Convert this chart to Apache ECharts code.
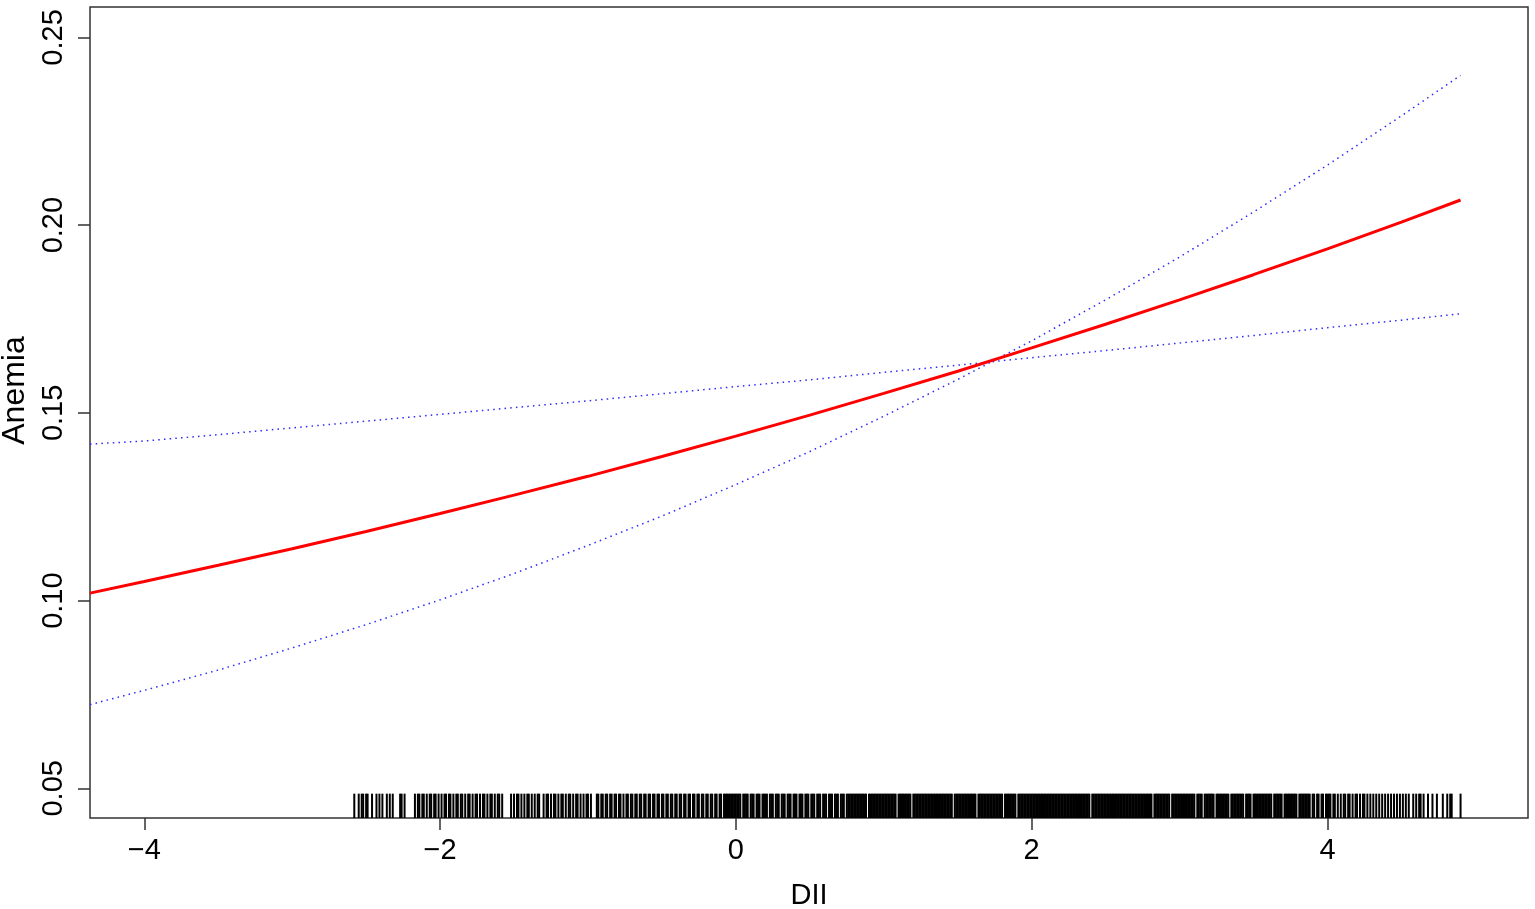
<!DOCTYPE html>
<html>
<head>
<meta charset="utf-8">
<script src="https://cdn.jsdelivr.net/npm/echarts@6/dist/echarts.min.js"></script>
<style>
  html, body { margin: 0; padding: 0; background: #fff; }
  #chart { width: 1535px; height: 909px; }
</style>
</head>
<body>
<div id="chart"></div>
<script>
// axis limits and ticks (R default plot: 4% padding around xlim/ylim)
const X_MIN = -4.367
const X_MAX = 5.356
const Y_MIN = 0.0421
const Y_MAX = 0.2581
const xTicks = [-4, -2, 0, 2, 4]
const yTicks = [0.05, 0.1, 0.15, 0.2, 0.25]

// fitted curve (red) and its confidence bounds (blue dotted)
const fitX = [-4.367, -4, -3.5, -3, -2.5, -2, -1.5, -1, -0.5, 0, 0.5, 1, 1.5, 2, 2.5, 3, 3.5, 4, 4.5, 4.9]
const fitY = [0.1020, 0.1051, 0.1094, 0.1138, 0.1184, 0.1232, 0.1281, 0.1331, 0.1384, 0.1438,
  0.1494, 0.1552, 0.1611, 0.1673, 0.1736, 0.1801, 0.1868, 0.1937, 0.2008, 0.2067]
const flatBoundY = [0.1417, 0.1425, 0.1442, 0.1460, 0.1478, 0.1496, 0.1514, 0.1532, 0.1551, 0.1570,
  0.1588, 0.1608, 0.1627, 0.1647, 0.1666, 0.1686, 0.1706, 0.1727, 0.1747, 0.1764]
const steepBoundY = [0.0723, 0.0761, 0.0815, 0.0874, 0.0936, 0.1002, 0.1072, 0.1147, 0.1225, 0.1309,
  0.1397, 0.1491, 0.1589, 0.1692, 0.1801, 0.1915, 0.2035, 0.2160, 0.2291, 0.2399]

// rug of observed DII values
const rugValues = [
  -2.58, -2.55, -2.53, -2.52, -2.50, -2.49, -2.46, -2.43, -2.41, -2.39, -2.36, -2.34, -2.32, -2.27, -2.26, -2.24,
  -2.17, -2.15, -2.14, -2.12, -2.11, -2.09, -2.07, -2.06, -2.04, -2.03, -2.01,
  -1.99, -1.97, -1.96, -1.94, -1.93, -1.91, -1.89, -1.88, -1.86, -1.85, -1.83, -1.81, -1.80, -1.78, -1.76,
  -1.75, -1.73, -1.71, -1.70, -1.68, -1.66, -1.65, -1.63, -1.61, -1.60, -1.58,
  -1.52, -1.50, -1.48, -1.47, -1.45, -1.43, -1.41, -1.40, -1.38, -1.36, -1.34, -1.33,
  -1.30, -1.28, -1.27, -1.25, -1.23, -1.22, -1.20, -1.18, -1.17, -1.15, -1.13, -1.12, -1.10, -1.08, -1.07,
  -1.05, -1.03, -1.01, -1.00, -0.98,
  -0.94, -0.93, -0.91, -0.90, -0.88, -0.87, -0.85, -0.84, -0.82, -0.81, -0.79, -0.78, -0.76, -0.74, -0.73,
  -0.71, -0.70, -0.68, -0.67, -0.65, -0.64, -0.62, -0.61, -0.59, -0.58, -0.56, -0.55, -0.53, -0.52, -0.50,
  -0.49, -0.47, -0.46, -0.44, -0.43, -0.41, -0.40, -0.38, -0.37, -0.35, -0.34, -0.32, -0.31, -0.29, -0.28,
  -0.26, -0.25, -0.23, -0.22, -0.20, -0.19, -0.17, -0.16, -0.14, -0.13, -0.11, -0.10, -0.08, -0.07, -0.06,
  -0.05, -0.04, -0.03, -0.02, -0.01, 0.00, 0.01, 0.02, 0.03,
  0.05, 0.06, 0.07, 0.08, 0.10, 0.11, 0.12, 0.14, 0.15, 0.16, 0.18, 0.19, 0.20, 0.21, 0.23, 0.24, 0.25,
  0.27, 0.28, 0.29, 0.31, 0.32, 0.33, 0.35, 0.36, 0.37, 0.39, 0.40, 0.41, 0.43, 0.44, 0.45, 0.47, 0.48,
  0.49, 0.51, 0.52, 0.53, 0.55, 0.56, 0.57, 0.59, 0.60, 0.61, 0.63, 0.64, 0.65, 0.67, 0.68, 0.69, 0.71,
  0.72, 0.73, 0.75, 0.76,
  0.77, 0.78, 0.79, 0.80, 0.81, 0.82, 0.83, 0.84, 0.85, 0.86, 0.87, 0.88, 0.90, 0.91, 0.92, 0.93, 0.94,
  0.95, 0.96, 0.97, 0.98, 0.99, 1.00, 1.01, 1.02, 1.03, 1.04, 1.05, 1.06, 1.07, 1.08, 1.10, 1.11, 1.12,
  1.13, 1.14, 1.15, 1.16, 1.17, 1.18, 1.20, 1.21, 1.22, 1.23, 1.24, 1.25, 1.26, 1.27, 1.28, 1.29, 1.30,
  1.31, 1.32, 1.33, 1.34, 1.35, 1.36, 1.37, 1.38, 1.39, 1.40, 1.41, 1.42, 1.43, 1.44, 1.45, 1.46, 1.48,
  1.49, 1.50, 1.51, 1.52, 1.53, 1.54, 1.55, 1.56, 1.57, 1.58, 1.59, 1.60, 1.61, 1.62, 1.64, 1.65, 1.66,
  1.67, 1.68, 1.69, 1.70, 1.71, 1.72, 1.73, 1.74, 1.75, 1.76, 1.77, 1.78, 1.79, 1.80, 1.82, 1.83, 1.84,
  1.85, 1.86, 1.87, 1.88, 1.89, 1.91, 1.92, 1.93, 1.94, 1.95, 1.96, 1.97, 1.98, 1.99, 2.00, 2.01, 2.02,
  2.03, 2.04, 2.05, 2.06, 2.07, 2.08, 2.09, 2.10, 2.11, 2.12, 2.13, 2.14, 2.15, 2.16, 2.17, 2.18, 2.19,
  2.20, 2.21, 2.22, 2.23, 2.24, 2.25, 2.26, 2.27, 2.28, 2.29, 2.30, 2.31, 2.32, 2.33, 2.34, 2.35, 2.36,
  2.37, 2.38, 2.39, 2.41, 2.42, 2.43, 2.44, 2.45, 2.46, 2.47, 2.48, 2.49, 2.50, 2.51, 2.52, 2.53, 2.54,
  2.55, 2.56, 2.57, 2.58, 2.59, 2.60, 2.61, 2.62, 2.63, 2.64, 2.65, 2.66, 2.67, 2.68, 2.69, 2.70, 2.71,
  2.72, 2.73, 2.74, 2.75, 2.76, 2.77, 2.78, 2.79, 2.80, 2.81, 2.83, 2.84, 2.85, 2.86, 2.87, 2.88, 2.89,
  2.90, 2.91, 2.92, 2.93, 2.95, 2.96, 2.97, 2.98, 2.99, 3.00, 3.01, 3.02, 3.03, 3.04, 3.05, 3.06, 3.07,
  3.08, 3.09, 3.10, 3.12, 3.13, 3.14, 3.15, 3.17, 3.18, 3.19, 3.20, 3.21, 3.22, 3.23, 3.25, 3.26, 3.27,
  3.28, 3.29, 3.30, 3.31, 3.32, 3.33, 3.35, 3.36, 3.37, 3.38, 3.39, 3.40, 3.41, 3.42, 3.43, 3.45, 3.46,
  3.47, 3.48, 3.50, 3.51, 3.52, 3.53, 3.54, 3.55, 3.56, 3.57, 3.58, 3.59, 3.60, 3.61, 3.62, 3.64, 3.65,
  3.66, 3.67, 3.68, 3.69, 3.71, 3.72, 3.73, 3.74, 3.75, 3.76, 3.77, 3.78, 3.79, 3.81, 3.82, 3.83, 3.84,
  3.85, 3.86,
  3.87, 3.88, 3.90, 3.91, 3.93, 3.94, 3.96, 3.97, 3.99, 4.00, 4.01, 4.02, 4.04, 4.05, 4.07,
  4.09, 4.11, 4.12, 4.14, 4.15, 4.17, 4.19, 4.20, 4.22, 4.24, 4.25, 4.27, 4.29, 4.31, 4.33, 4.35, 4.37,
  4.39, 4.41, 4.43, 4.45, 4.47, 4.49, 4.51, 4.53, 4.55,
  4.58, 4.60, 4.62, 4.63, 4.65, 4.68, 4.71, 4.74, 4.78, 4.81, 4.83, 4.84, 4.90,
]

const FONT = '"Liberation Sans", Arial, Helvetica, sans-serif'
const AXIS_COLOR = '#333'

const pairs = (xs, ys) => xs.map((x, i) => [x, ys[i]])
const minusSign = (v) => (v < 0 ? '\u2212' + Math.abs(v) : String(v))

const chart = echarts.init(document.getElementById('chart'), null, { renderer: 'canvas' })

const boundLine = (data) => ({
  type: 'line',
  data,
  symbol: 'none',
  silent: true,
  z: 3,
  lineStyle: { color: '#2a2aff', width: 1.5, type: [1.5, 4.2] },
})

chart.setOption({
  animation: false,
  backgroundColor: '#fff',
  grid: {
    left: 90,
    right: 7,
    top: 7,
    bottom: 91,
    outerBoundsMode: 'none',
    containLabel: false,
    show: true,
    borderColor: AXIS_COLOR,
    borderWidth: 1.5,
  },
  xAxis: {
    type: 'value',
    min: X_MIN,
    max: X_MAX,
    name: 'DII',
    nameLocation: 'middle',
    nameGap: 63,
    nameTextStyle: { color: '#000', fontSize: 29, fontFamily: FONT },
    axisLine: { show: false, onZero: false },
    splitLine: { show: false },
    axisTick: {
      show: true,
      length: 12,
      customValues: xTicks,
      lineStyle: { color: AXIS_COLOR, width: 1.5 },
    },
    axisLabel: {
      customValues: xTicks,
      formatter: minusSign,
      margin: 18,
      color: '#000',
      fontSize: 29,
      fontFamily: FONT,
    },
  },
  yAxis: {
    type: 'value',
    min: Y_MIN,
    max: Y_MAX,
    name: 'Anemia',
    nameLocation: 'middle',
    nameGap: 58,
    nameRotate: 90,
    nameTextStyle: { color: '#000', fontSize: 32, fontFamily: FONT, padding: [0, 0, 0, 44] },
    axisLine: { show: false, onZero: false },
    splitLine: { show: false },
    axisTick: {
      show: true,
      length: 12,
      customValues: yTicks,
      lineStyle: { color: AXIS_COLOR, width: 1.5 },
    },
    axisLabel: {
      customValues: yTicks,
      formatter: (v) => v.toFixed(2),
      rotate: 90,
      margin: 22,
      color: '#000',
      fontSize: 29,
      fontFamily: FONT,
    },
  },
  series: [
    boundLine(pairs(fitX, steepBoundY)),
    boundLine(pairs(fitX, flatBoundY)),
    {
      type: 'line',
      data: pairs(fitX, fitY),
      symbol: 'none',
      silent: true,
      z: 4,
      lineStyle: { color: '#ff0000', width: 3 },
    },
    {
      // rug: each tick is 3% of the plot height, standing on the bottom edge
      type: 'custom',
      silent: true,
      z: 2,
      data: rugValues.map((v) => [v, Y_MIN]),
      renderItem: (params, api) => {
        const p = api.coord([api.value(0), api.value(1)])
        const h = params.coordSys.height * 0.03
        return {
          type: 'rect',
          shape: { x: p[0] - 1, y: p[1] - h, width: 2, height: h },
          style: { fill: '#000' },
        }
      },
    },
  ],
})

window.addEventListener('resize', () => chart.resize())
</script>
</body>
</html>
